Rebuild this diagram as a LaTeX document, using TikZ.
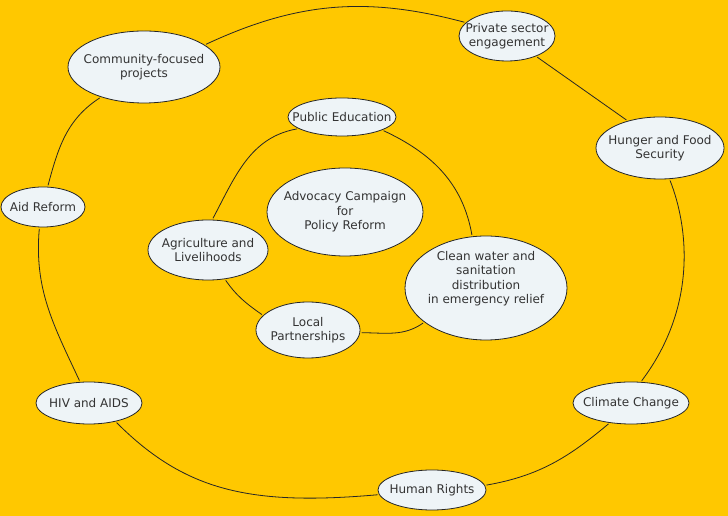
\documentclass[tikz,border=0pt]{standalone}
\usepackage{fontspec}
\setmainfont{DejaVu Sans}
\usetikzlibrary{shapes.geometric}

\definecolor{bgyellow}{HTML}{FFC800}
\definecolor{bubble}{HTML}{EEF4F7}
\definecolor{inktext}{HTML}{333333}

% text block set higher than the middle of its bubble
\newcommand{\highlines}[2]{\raisebox{#1}[0pt][0pt]{\begin{tabular}{@{}c@{}}#2\end{tabular}}}

\begin{document}
\begin{tikzpicture}[x = 1pt, y = 1pt, font = \fontsize{12}{14.5}\selectfont,
        topic/.style = {ellipse, draw = black!85, line width = 0.8pt, fill = bubble,
                        text = inktext, align = center, inner xsep = -20pt, inner ysep = -5pt},
        link/.style = {line width = 0.8pt, black!85, shorten < = 1.5pt, shorten > = 1.5pt}]
        \fill[bgyellow] (0,0) rectangle (728,516);
        \useasboundingbox (0,0) rectangle (728,516);

        % outer ring
        \node[topic, minimum width = 152pt, minimum height = 72pt] (com) at (144,449) {Community-focused\\projects};
        \node[topic, minimum width = 96pt, minimum height = 50pt] (priv) at (507,480) {Private sector\\engagement};
        \node[topic, minimum width = 128pt, minimum height = 62pt] (hung) at (660,368) {Hunger and Food\\Security};
        \node[topic, minimum width = 84pt, minimum height = 40pt] (aid) at (43,309) {Aid Reform};
        \node[topic, minimum width = 106pt, minimum height = 42pt] (hiv) at (89,113) {HIV and AIDS};
        \node[topic, minimum width = 116pt, minimum height = 42pt] (clim) at (631,113) {Climate Change};
        \node[topic, minimum width = 108pt, minimum height = 40pt] (hum) at (432,26) {Human Rights};

        % inner ring
        \node[topic, minimum width = 108pt, minimum height = 38pt] (pub) at (342,399) {Public Education};
        \node[topic, minimum width = 156pt, minimum height = 88pt] (adv) at (345,304) {Advocacy Campaign\\for\\Policy Reform};
        \node[topic, minimum width = 120pt, minimum height = 60pt] (agri) at (208,266) {Agriculture and\\Livelihoods};
        \node[topic, minimum width = 162pt, minimum height = 104pt] (clean) at (486,228)
            {\highlines{6pt}{Clean water and\\sanitation\\distribution\\ in emergency relief}};
        \node[topic, minimum width = 104pt, minimum height = 56pt] (local) at (308,186) {Local\\Partnerships};

        \draw[link] (com.20) to[out = 25, in = 165] (priv.162);
        \draw[link] (priv.-35) -- (hung.140);
        \draw[link] (hung.-73) .. controls (688,290) and (698,210) .. (clim.65);
        \draw[link] (clim.-137) to[out = 220, in = 10] (hum.5);
        \draw[link] (hum.185) .. controls (250,10) and (185,25) .. (hiv.-35);
        \draw[link] (hiv.113) to[out = 115, in = -95] (aid.-100);
        \draw[link] (aid.77) to[out = 75, in = 213] (com.215);

        \draw[link] (pub.-18) to[out = -25, in = 100] (clean.105);
        \draw[link] (clean.209) to[out = 215, in = 0] (local.-3);
        \draw[link] (local.162) to[out = 145, in = -55] (agri.-60);
        \draw[link] (agri.82) to[out = 62, in = 190] (pub.195);
\end{tikzpicture}
\end{document}
